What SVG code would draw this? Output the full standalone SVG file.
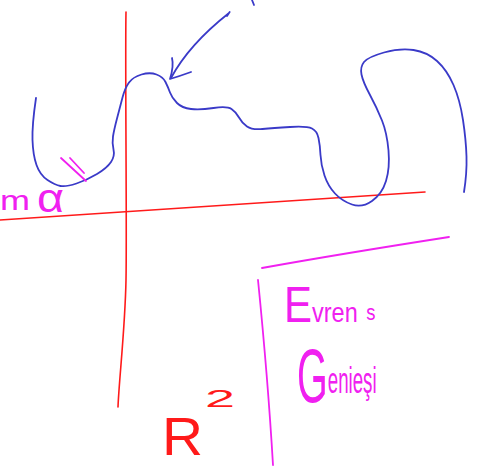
<svg xmlns="http://www.w3.org/2000/svg" width="478" height="467" viewBox="0 0 478 467">
<style>
.ink{fill:none;stroke-linecap:round;stroke-linejoin:round}
.red{stroke:#ff1a1a;stroke-width:1.6}
.blue{stroke:#3a3ac8;stroke-width:1.8}
.mag{stroke:#f020f0;stroke-width:1.8}
.tm{fill:#f020f0;font-family:"Liberation Sans",Arial,sans-serif}
.tr{fill:#ff1a1a;font-family:"Liberation Sans",Arial,sans-serif}
</style>
<rect width="478" height="467" fill="#ffffff"/>
<g id="axes">
<path class="ink red" d="M126,12 C125,60 127,230 126,280 S119,380 118,407"/>
<path class="ink red" d="M0,220 Q200,207 425,192"/>
</g>
<g id="curve">
<path class="ink blue" d="M36,98 Q32,125 32.5,140 Q33,155 36.5,165 Q40,175 47.5,180 Q55,185 60.5,186 Q66,187 76.5,183.5 Q87,180 97,174 Q107,168 111,162 Q115,156 113.5,149.5 Q112,143 113,136.5 Q114,130 117,118.5 Q120,107 122.5,97.5 Q125,88 129,82.5 Q133,77 141.5,74.5 Q150,72 156.5,74.5 Q163,77 165.5,82 Q168,87 170,92.5 Q172,98 177,103 Q182,108 191,109 Q200,110 213.5,108 Q227,106 231.5,109 Q236,112 239,117.5 Q242,123 247,126.5 Q252,130 262.5,129 Q273,128 290,127 Q307,126 312,128.5 Q317,131 318.5,138 Q320,145 320.5,155 Q321,165 324.5,175.5 Q328,186 335,193.5 Q342,201 352,204.5 Q362,208 372,201 Q382,194 386,181 Q390,168 388.5,150.5 Q387,133 382,120.5 Q377,108 370,95 Q363,82 361.5,74.5 Q360,67 364,62 Q368,57 384,52.5 Q400,48 413.5,50 Q427,52 437,61 Q447,70 453.5,85 Q460,100 463,120 Q466,140 466.5,156.5 Q467,173 464,192"/>
</g>
<g id="arrow">
<path class="ink blue" d="M227,16 Q231,10 229,13 C210,28 185,52 171,78"/>
<path class="ink blue" d="M172,58 Q174,66 170,79 Q180,76 191,72"/>
<path class="ink blue" d="M252,0 L254,5"/>
</g>
<g id="label-m-alpha">
<text class="tm" x="0" y="210" font-size="28" textLength="30" lengthAdjust="spacingAndGlyphs">m</text>
<text class="tm" x="37" y="212" font-size="40" textLength="27" lengthAdjust="spacingAndGlyphs">α</text>
<path class="ink mag" d="M61,158 L86,181 M70,158 L84,173"/>
</g>
<g id="label-R2">
<text class="tr" x="162" y="455" font-size="54" textLength="41" lengthAdjust="spacingAndGlyphs">R</text>
<text class="tr" x="205" y="407" font-size="24" textLength="30" lengthAdjust="spacingAndGlyphs">2</text>
</g>
<g id="box">
<path class="ink mag" d="M262,268 Q340,254 449,237"/>
<path class="ink mag" d="M258,280 Q268,380 273,465"/>
<text class="tm" transform="translate(284,322) scale(0.84,1)" x="0" y="0"><tspan font-size="50">E</tspan><tspan font-size="28">vren</tspan><tspan dx="10" dy="-2" font-size="22">s</tspan></text>
<text class="tm" transform="translate(297,402) scale(0.52,1)" x="0" y="0"><tspan font-size="76">G</tspan><tspan dy="-9" font-size="36">enieşi</tspan></text>
</g>
</svg>
